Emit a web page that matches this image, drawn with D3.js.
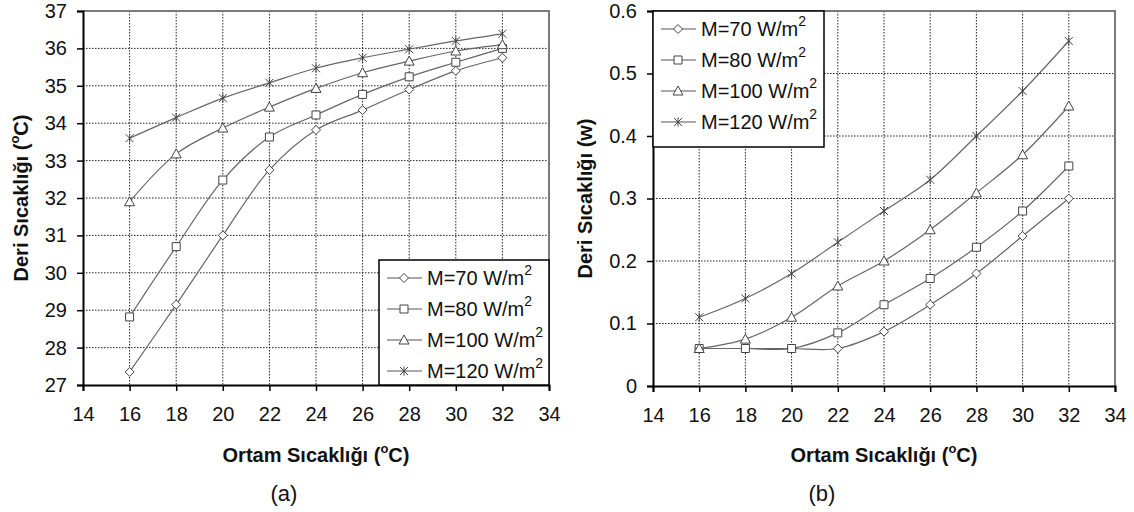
<!DOCTYPE html>
<html>
<head>
<meta charset="utf-8">
<script src="https://cdn.jsdelivr.net/npm/d3@7/dist/d3.min.js"></script>
<style>
  body { margin: 0; background: #fff; }
  svg text { font-family: "Liberation Sans", Arial, sans-serif; fill: #111; }
</style>
</head>
<body>
<div id="chart"></div>
<script>
// ortam sicakligi (x values)
const temps = [16, 18, 20, 22, 24, 26, 28, 30, 32];
const seriesLabels = ["M=70 W/m", "M=80 W/m", "M=100 W/m", "M=120 W/m"];
const markerTypes = ["diamond", "square", "triangle", "star"];

// (a) deri sicakligi, C
const skinTempM70 = [27.35, 29.15, 31.0, 32.75, 33.82, 34.35, 34.9, 35.4, 35.75];
const skinTempM80 = [28.82, 30.7, 32.48, 33.63, 34.22, 34.77, 35.24, 35.63, 36.0];
const skinTempM100 = [31.9, 33.18, 33.87, 34.43, 34.93, 35.35, 35.66, 35.93, 36.1];
const skinTempM120 = [33.6, 34.15, 34.67, 35.08, 35.47, 35.75, 35.98, 36.2, 36.39];

// (b) deri islakligi (w)
const wetM70 = [0.06, 0.06, 0.06, 0.06, 0.087, 0.13, 0.18, 0.24, 0.30];
const wetM80 = [0.06, 0.06, 0.06, 0.085, 0.13, 0.172, 0.222, 0.28, 0.352];
const wetM100 = [0.06, 0.075, 0.11, 0.16, 0.2, 0.25, 0.309, 0.37, 0.448];
const wetM120 = [0.11, 0.14, 0.18, 0.23, 0.28, 0.33, 0.4, 0.472, 0.552];

const xTickValues = [14, 16, 18, 20, 22, 24, 26, 28, 30, 32, 34];
const yTicksA = [27, 28, 29, 30, 31, 32, 33, 34, 35, 36, 37];
const yTicksB = [0, 0.1, 0.2, 0.3, 0.4, 0.5, 0.6];

const svg = d3.select("#chart").append("svg")
  .attr("width", 1134)
  .attr("height", 512);

function markerPath(type) {
  if (type === "diamond") return "M0,-4.5L4.5,0L0,4.5L-4.5,0Z";
  if (type === "square") return "M-4,-4H4V4H-4Z";
  if (type === "triangle") return "M0,-5L5,4H-5Z";
  return "M-4,-4L4,4M-4,4L4,-4M0,-4.5V4.5";
}

function drawPanel(p) {
  let g = svg.append("g");
  let x = d3.scaleLinear().domain([14, 34]).range([p.left, p.right]);
  let y = d3.scaleLinear().domain(p.yDomain).range([p.bottom, p.top]);

  // dotted grid
  g.append("g").selectAll("line")
    .data(xTickValues.slice(1, -1))
    .enter().append("line")
    .attr("x1", d => x(d)).attr("x2", d => x(d))
    .attr("y1", p.top).attr("y2", p.bottom)
    .attr("stroke", "#222").attr("stroke-width", 1)
    .attr("stroke-dasharray", "1.5,1.5");
  g.append("g").selectAll("line")
    .data(p.yTicks.slice(1, -1))
    .enter().append("line")
    .attr("x1", p.left).attr("x2", p.right)
    .attr("y1", d => y(d)).attr("y2", d => y(d))
    .attr("stroke", "#222").attr("stroke-width", 1)
    .attr("stroke-dasharray", "1.5,1.5");

  // gray top and right border
  g.append("path")
    .attr("d", `M${p.left},${p.top}H${p.right}V${p.bottom}`)
    .attr("fill", "none").attr("stroke", "#7a7a7a").attr("stroke-width", 2);

  // axes
  let xAxis = g.append("g")
    .attr("transform", `translate(0,${p.bottom})`)
    .call(d3.axisBottom(x).tickValues(xTickValues).tickSize(6).tickPadding(16).tickFormat(d3.format("d")));
  let yAxis = g.append("g")
    .attr("transform", `translate(${p.left},0)`)
    .call(d3.axisLeft(y).tickValues(p.yTicks).tickSize(6).tickPadding(10).tickFormat(p.fmt));
  [xAxis, yAxis].forEach(a => {
    a.select(".domain").attr("stroke", "#000").attr("stroke-width", 2);
    a.selectAll(".tick line").attr("stroke", "#000").attr("stroke-width", 1.5);
    a.selectAll(".tick text").style("font-size", "20px").attr("fill", "#111");
  });

  // series
  let line = d3.line()
    .x((d, i) => x(temps[i]))
    .y(d => y(d))
    .curve(d3.curveCatmullRom.alpha(0.5));

  p.series.forEach((vals, si) => {
    g.append("path")
      .datum(vals)
      .attr("d", line)
      .attr("fill", "none")
      .attr("stroke", "#666")
      .attr("stroke-width", 1.2);
    g.append("g").selectAll("path")
      .data(vals)
      .enter().append("path")
      .attr("transform", (d, i) => `translate(${x(temps[i])},${y(d)})`)
      .attr("d", markerPath(markerTypes[si]))
      .attr("fill", "#fff")
      .attr("stroke", "#444")
      .attr("stroke-width", 1);
  });

  // legend
  let lg = g.append("g");
  lg.append("rect")
    .attr("x", p.legend.x).attr("y", p.legend.y)
    .attr("width", p.legend.w).attr("height", p.legend.h)
    .attr("fill", "#fff").attr("stroke", "#000").attr("stroke-width", 1.5);
  seriesLabels.forEach((lab, i) => {
    let cy = p.legend.y + p.legend.first + i * p.legend.step;
    let lx = p.legend.x + 8;
    lg.append("line")
      .attr("x1", lx).attr("x2", lx + 35)
      .attr("y1", cy).attr("y2", cy)
      .attr("stroke", "#555").attr("stroke-width", 1.2);
    lg.append("path")
      .attr("transform", `translate(${lx + 17},${cy})`)
      .attr("d", markerPath(markerTypes[i]))
      .attr("fill", "#fff").attr("stroke", "#444");
    let t = lg.append("text")
      .attr("x", lx + 40).attr("y", cy + 7)
      .style("font-size", "20px")
      .text(lab);
    t.append("tspan")
      .attr("dy", -10)
      .style("font-size", "14px")
      .text("2");
  });

  // axis titles
  let xt = g.append("text")
    .attr("x", (p.left + p.right) / 2).attr("y", 462)
    .attr("text-anchor", "middle")
    .style("font-size", "20px").style("font-weight", "bold")
    .text("Ortam Sıcaklığı (");
  xt.append("tspan").attr("dy", -9).style("font-size", "13px").text("o");
  xt.append("tspan").attr("dy", 9).text("C)");

  let yt = g.append("text")
    .attr("transform", `translate(${p.yTitleX},${(p.top + p.bottom) / 2}) rotate(-90)`)
    .attr("text-anchor", "middle")
    .style("font-size", "20px").style("font-weight", "bold")
    .text("Deri Sıcaklığı (");
  if (p.yUnitSup) {
    yt.append("tspan").attr("dy", -9).style("font-size", "13px").text("o");
    yt.append("tspan").attr("dy", 9).text("C)");
  } else {
    yt.append("tspan").text("w)");
  }

  g.append("text")
    .attr("x", p.tagX).attr("y", 501)
    .attr("text-anchor", "middle")
    .style("font-size", "22px")
    .text(p.tag);
}

drawPanel({
  left: 83, right: 549, top: 11, bottom: 385,
  yDomain: [27, 37], yTicks: yTicksA, fmt: d3.format("d"),
  series: [skinTempM70, skinTempM80, skinTempM100, skinTempM120],
  legend: { x: 379, y: 260, w: 170, h: 125, first: 18, step: 31 },
  yTitleX: 28, yUnitSup: true, tagX: 284, tag: "(a)"
});

drawPanel({
  left: 653, right: 1115, top: 11, bottom: 386,
  yDomain: [0, 0.6], yTicks: yTicksB, fmt: d => d === 0 ? "0" : d3.format(".1f")(d),
  series: [wetM70, wetM80, wetM100, wetM120],
  legend: { x: 653, y: 11, w: 171, h: 136, first: 18, step: 31 },
  yTitleX: 592, yUnitSup: false, tagX: 822, tag: "(b)"
});
</script>
</body>
</html>
